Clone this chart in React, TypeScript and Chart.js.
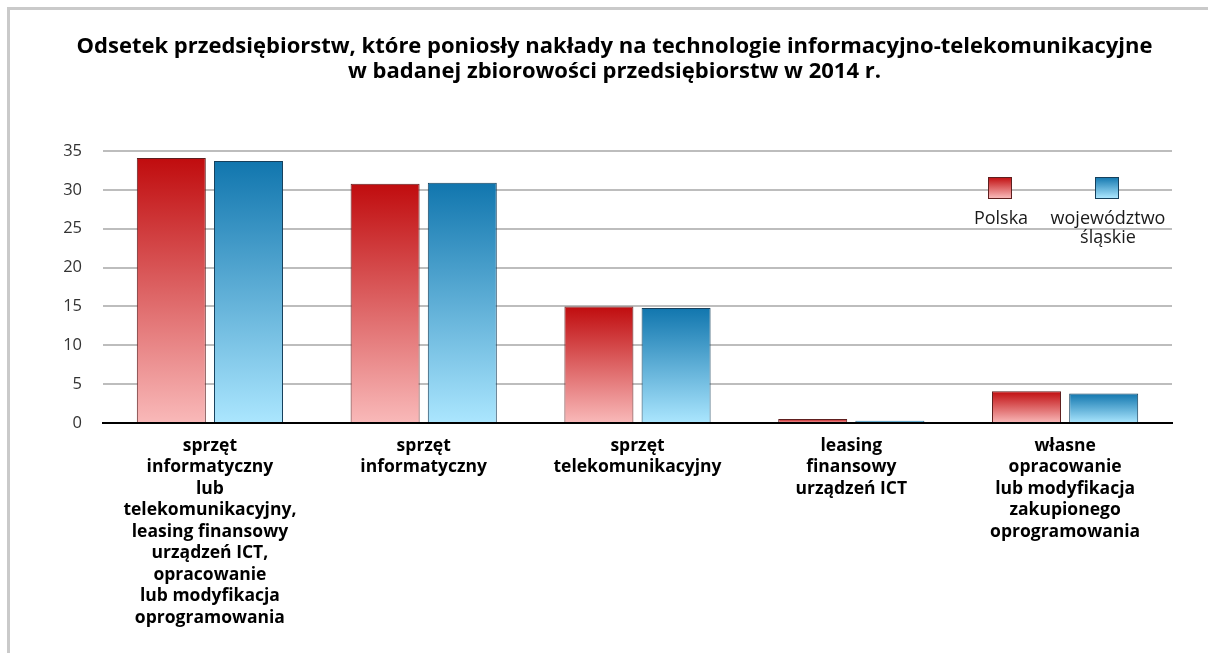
import React, { useEffect, useRef } from "react";
import { Chart, registerables } from "chart.js";

Chart.register(...registerables);

// ---- data ----
const titleLines = [
  "Odsetek przedsiębiorstw, które poniosły nakłady na technologie informacyjno-telekomunikacyjne",
  "w badanej zbiorowości przedsiębiorstw w 2014 r.",
];

const categories: string[][] = [
  [
    "sprzęt",
    "informatyczny",
    "lub",
    "telekomunikacyjny,",
    "leasing finansowy",
    "urządzeń ICT,",
    "opracowanie",
    "lub modyfikacja",
    "oprogramowania",
  ],
  ["sprzęt", "informatyczny"],
  ["sprzęt", "telekomunikacyjny"],
  ["leasing", "finansowy", "urządzeń ICT"],
  ["własne", "opracowanie", "lub modyfikacja", "zakupionego", "oprogramowania"],
];

const polskaValues = [34.1, 30.8, 15.0, 0.5, 4.1];
const slaskieValues = [33.7, 30.9, 14.8, 0.3, 3.8];

const seriesLabels = ["Polska", "województwo śląskie"];
const legendLines = [["Polska"], ["województwo", "śląskie"]];

const yMin = 0;
const yMax = 35;
const yStep = 5;

// ---- style ----
const W = 1229;
const H = 653;
const FONT = "'Open Sans', 'DejaVu Sans', sans-serif";

const redTop = "#c00c0e";
const redBottom = "#f9b9b9";
const redBorder = "#5e1f1f";
const blueTop = "#1176ae";
const blueBottom = "#abe6fe";
const blueBorder = "#16405c";

function barGradient(top: string, bottom: string) {
  return (ctx: any) => {
    const chart = ctx.chart;
    if (!chart.chartArea || ctx.type !== "data") return top;
    const y = chart.scales.y;
    const v = ctx.raw as number;
    const yTop = y.getPixelForValue(v);
    const yBase = y.getPixelForValue(0);
    if (!(yBase > yTop)) return top;
    const g = chart.ctx.createLinearGradient(0, yTop, 0, yBase);
    g.addColorStop(0, top);
    g.addColorStop(1, bottom);
    return g;
  };
}

const titlePlugin = {
  id: "customTitle",
  afterDraw(chart: any) {
    const ctx = chart.ctx;
    ctx.save();
    ctx.fillStyle = "#000";
    ctx.font = `bold 22px ${FONT}`;
    ctx.textAlign = "center";
    ctx.textBaseline = "middle";
    titleLines.forEach((line, i) => {
      ctx.fillText(line, chart.width / 2, 47 + i * 25);
    });
    ctx.restore();
  },
};

const legendPlugin = {
  id: "customLegend",
  afterDraw(chart: any) {
    const ctx = chart.ctx;
    const items = [
      { cx: 999.5, tx: 1001, top: redTop, bottom: redBottom, border: redBorder, lines: legendLines[0] },
      { cx: 1106.5, tx: 1108, top: blueTop, bottom: blueBottom, border: blueBorder, lines: legendLines[1] },
    ];
    const boxW = 23;
    const boxH = 21;
    const boxY = 177;
    ctx.save();
    items.forEach((it) => {
      const x0 = Math.round(it.cx - boxW / 2) + 0.5;
      const g = ctx.createLinearGradient(0, boxY, 0, boxY + boxH);
      g.addColorStop(0, it.top);
      g.addColorStop(1, it.bottom);
      ctx.fillStyle = g;
      ctx.fillRect(x0, boxY + 0.5, boxW, boxH);
      ctx.strokeStyle = it.border;
      ctx.lineWidth = 1;
      ctx.strokeRect(x0, boxY + 0.5, boxW, boxH);
      ctx.fillStyle = "#1a1a1a";
      ctx.font = `18px ${FONT}`;
      ctx.textAlign = "center";
      ctx.textBaseline = "middle";
      it.lines.forEach((l, i) => {
        ctx.fillText(l, it.tx, 219 + i * 19);
      });
    });
    ctx.restore();
  },
};

export default function App() {
  const canvasRef = useRef<HTMLCanvasElement | null>(null);

  useEffect(() => {
    document.documentElement.style.overflow = "hidden";
    const canvas = canvasRef.current;
    if (!canvas) return;
    const chart = new Chart(canvas, {
      type: "bar",
      data: {
        labels: categories,
        datasets: [
          {
            label: seriesLabels[0],
            data: polskaValues,
            backgroundColor: barGradient(redTop, redBottom),
            borderColor: redBorder,
            borderWidth: 1,
            categoryPercentage: 0.722,
            barPercentage: 0.894,
          },
          {
            label: seriesLabels[1],
            data: slaskieValues,
            backgroundColor: barGradient(blueTop, blueBottom),
            borderColor: blueBorder,
            borderWidth: 1,
            categoryPercentage: 0.722,
            barPercentage: 0.894,
          },
        ],
      },
      options: {
        responsive: false,
        animation: false,
        devicePixelRatio: 1,
        layout: { padding: { top: 151, right: 57, bottom: 0, left: 0 } },
        plugins: {
          legend: { display: false },
          title: { display: false },
          tooltip: { enabled: false },
        },
        scales: {
          x: {
            grid: { display: false, drawTicks: false },
            border: { display: true, color: "#000", width: 2 },
            ticks: {
              autoSkip: false,
              maxRotation: 0,
              minRotation: 0,
              padding: 12,
              color: "#000",
              font: { family: FONT, size: 17.5, weight: "bold", lineHeight: 1.23 },
            },
            afterFit(scale: any) {
              scale.height = 230;
            },
          },
          y: {
            min: yMin,
            max: yMax,
            grid: { color: "#bdbdbd", lineWidth: 2, drawTicks: false },
            border: { display: false },
            ticks: {
              stepSize: yStep,
              padding: 21,
              color: "#333",
              font: { family: FONT, size: 16.5 },
            },
            afterFit(scale: any) {
              scale.width = 103;
            },
          },
        },
      },
      plugins: [titlePlugin, legendPlugin],
    });
    return () => {
      chart.destroy();
    };
  }, []);

  return (
    <>
      <div
        style={{
          position: "fixed",
          left: 7,
          top: 7,
          width: 1400,
          height: 900,
          border: "3px solid #cacaca",
          boxSizing: "border-box",
          background: "#fff",
          zIndex: 0,
        }}
      />
      <canvas
        ref={canvasRef}
        width={W}
        height={H}
        style={{ position: "fixed", left: 0, top: 0, width: W, height: H, zIndex: 1 }}
      />
    </>
  );
}
